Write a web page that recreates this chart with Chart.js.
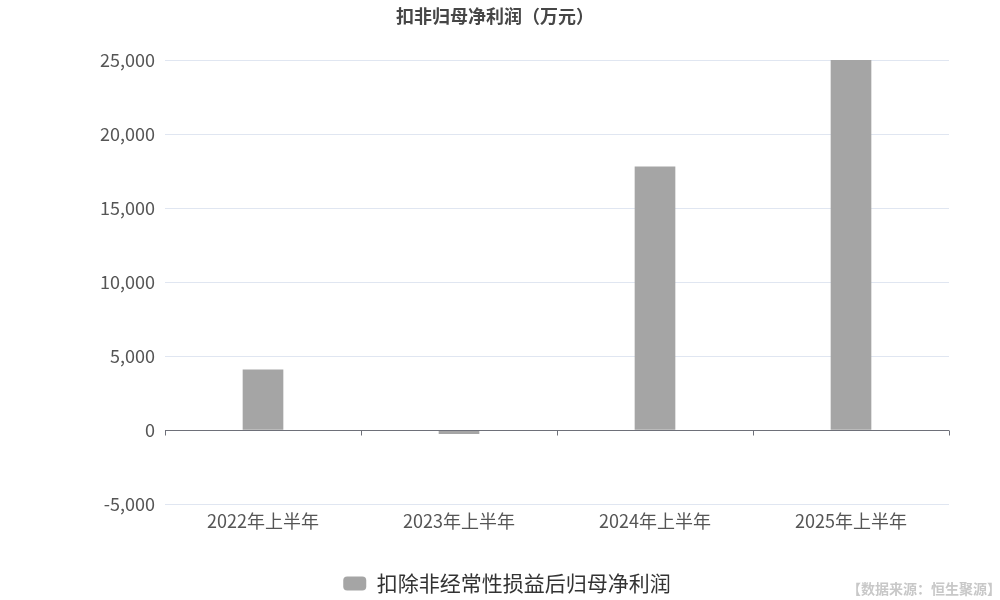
<!DOCTYPE html>
<html>
<head>
<meta charset="utf-8">
<script src="https://cdn.jsdelivr.net/npm/chart.js@4"></script>
<style>
  html, body { margin: 0; padding: 0; background: #fff; }
  #wrap { position: relative; width: 1000px; height: 600px; }
  #titulo {
    position: absolute; left: 0; width: 990px; top: 4px; text-align: center;
    font: bold 18px/22px "Noto Sans CJK SC", sans-serif; color: #464646;
  }
  #source {
    position: absolute; right: -1px; bottom: 2px;
    font: bold 14px "Noto Sans CJK SC", sans-serif; color: #c8c8c8;
  }
</style>
</head>
<body>
<div id="wrap">
  <canvas id="grafica" width="1000" height="600"></canvas>
  <div id="titulo"></div>
  <div id="source">【数据来源：恒生聚源】</div>
</div>
<script>
// datos
const categorias = ['2022年上半年', '2023年上半年', '2024年上半年', '2025年上半年'];
const valores = [4060, -240, 17780, 25000];
const nombreSerie = '扣除非经常性损益后归母净利润';
const titulo = '扣非归母净利润（万元）';

const fuente = '"Noto Sans CJK SC", sans-serif';

document.getElementById('titulo').textContent = titulo;

// eje en cero con marcas entre categorias
const ejeCero = {
    id: 'ejeCero',
    afterDatasetsDraw(chart) {
        const { ctx, chartArea, scales } = chart;
        const y = Math.round(scales.y.getPixelForValue(0)) + 0.5;
        ctx.save();
        ctx.strokeStyle = '#6e7079';
        ctx.lineWidth = 1;
        ctx.beginPath();
        ctx.moveTo(chartArea.left, y);
        ctx.lineTo(chartArea.right, y);
        for (let i = 0; i <= categorias.length; i++) {
            const x = Math.round(scales.x.getPixelForValue(i - 0.5)) + 0.5;
            ctx.moveTo(x, y);
            ctx.lineTo(x, y + 5);
        }
        ctx.stroke();
        ctx.restore();
    }
};

const ctx = document.getElementById('grafica').getContext('2d');
new Chart(ctx, {
    type: 'bar',
    data: {
        labels: categorias,
        datasets: [{
            label: nombreSerie,
            data: valores,
            backgroundColor: '#a5a5a5',
            barThickness: 40
        }]
    },
    options: {
        responsive: false,
        animation: false,
        layout: { padding: { left: 14, right: 0, top: 60, bottom: -4 } },
        plugins: {
            title: { display: false },
            legend: {
                position: 'bottom',
                labels: {
                    color: '#333',
                    font: { family: fuente, size: 21 },
                    boxWidth: 23,
                    boxHeight: 14,
                    useBorderRadius: true,
                    borderRadius: 4,
                    padding: 6
                }
            },
            tooltip: { enabled: false }
        },
        scales: {
            x: {
                grid: { display: false, drawTicks: false },
                border: { display: false },
                ticks: { color: '#555', font: { family: fuente, size: 18 }, padding: 6 },
                afterFit(scale) { scale.height = 63; }
            },
            y: {
                min: -5000,
                max: 25000,
                grid: { color: '#e0e6f1', drawTicks: false },
                border: { display: false },
                ticks: {
                    stepSize: 5000,
                    color: '#555',
                    padding: 10,
                    font: { family: fuente, size: 18 },
                    callback: v => v.toLocaleString('en-US')
                },
                afterFit(scale) { scale.width = 151; }
            },
            // margen derecho sin texto
            yDerecha: {
                position: 'right',
                grid: { display: false },
                border: { display: false },
                ticks: { display: false },
                afterFit(scale) { scale.width = 51; }
            }
        }
    },
    plugins: [ejeCero]
});
</script>
</body>
</html>
